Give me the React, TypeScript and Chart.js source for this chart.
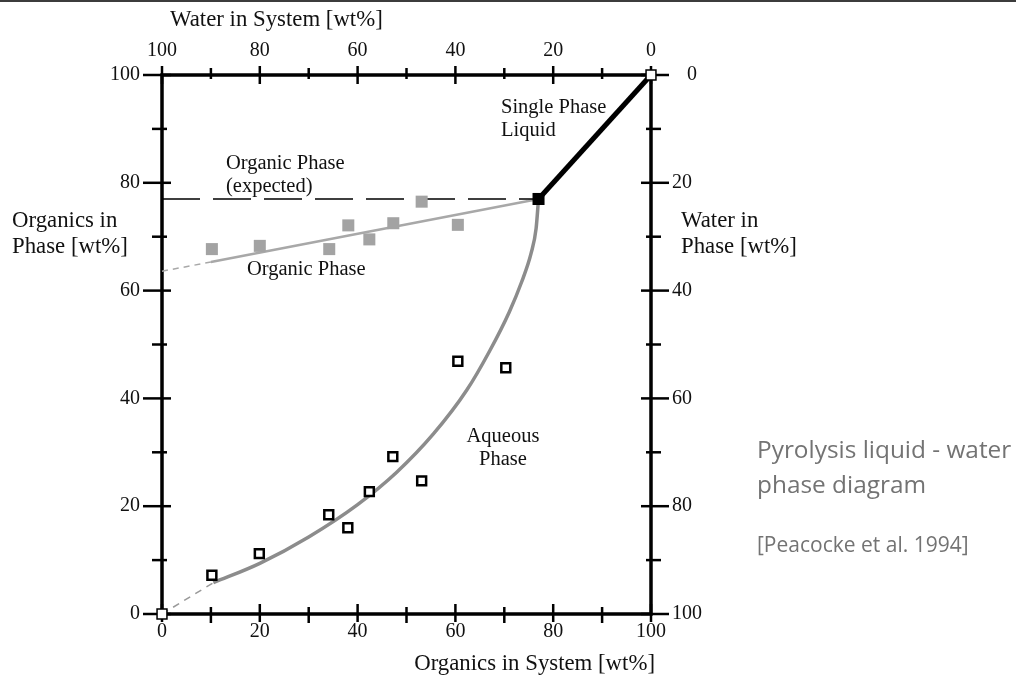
import React, { useEffect, useRef } from 'react';
import { Chart, registerables } from 'chart.js';

Chart.register(...registerables);

// ---- data ----
const tickValues = [0, 20, 40, 60, 80, 100];

const organicX = [10.2, 20.0, 34.2, 38.1, 42.4, 47.3, 53.1, 60.5];
const organicY = [67.7, 68.3, 67.7, 72.1, 69.5, 72.5, 76.5, 72.2];

const aqueousX = [10.2, 19.9, 34.1, 38.0, 42.4, 47.2, 53.1, 60.5, 70.3];
const aqueousY = [7.2, 11.2, 18.4, 16.0, 22.7, 29.2, 24.7, 46.9, 45.7];

const plaitX = [77];
const plaitY = [77];

const cornerX = [0, 100];
const cornerY = [0, 100];

const singlePhaseX = [77, 100];
const singlePhaseY = [77, 100];

const expectedX = [0, 77];
const expectedY = [77, 77];

const organicFitX = [10, 77];
const organicFitY = [65.3, 77];
const organicExtX = [0, 10];
const organicExtY = [63.6, 65.3];

const aqueousFitX = [10.5, 20, 30, 40, 48, 55.5, 62.3, 67, 71, 73.5, 75.5, 76.5, 77];
const aqueousFitY = [5.8, 9.4, 14.3, 20.3, 26.3, 33.4, 41.5, 48.8, 56, 61.5, 67, 71.5, 77];
const aqueousExtX = [0, 10.5];
const aqueousExtY = [0, 5.8];

const pts = (xs: number[], ys: number[]) => xs.map((x, i) => ({ x, y: ys[i] }));

const SERIF = "'Liberation Serif', 'Times New Roman', serif";
const SANS = "'Open Sans', 'Noto Sans', sans-serif";

const decor = {
  id: 'decor',
  beforeDatasetsDraw(chart: any) {
    const ctx = chart.ctx as CanvasRenderingContext2D;
    const { left, right, top, bottom } = chart.chartArea;
    const xs = chart.scales.x;
    const xt = chart.scales.xTop;
    const yl = chart.scales.y;
    const yr = chart.scales.yRight;
    ctx.save();
    // slide top border
    ctx.fillStyle = '#3c3c3c';
    ctx.fillRect(0, 0, chart.width, 2);

    // frame
    ctx.strokeStyle = '#000';
    ctx.lineWidth = 3.5;
    ctx.beginPath();
    ctx.rect(left, top, right - left, bottom - top);
    ctx.stroke();

    // ticks
    ctx.lineWidth = 2.5;
    const line = (x1: number, y1: number, x2: number, y2: number) => {
      ctx.beginPath();
      ctx.moveTo(x1, y1);
      ctx.lineTo(x2, y2);
      ctx.stroke();
    };
    for (let v = 0; v <= 100; v += 10) {
      const major = v % 20 === 0;
      const py = yl.getPixelForValue(v);
      line(left - (major ? 19 : 10), py, left + (major ? 9 : 5), py);
      const py2 = yr.getPixelForValue(v);
      line(right - (major ? 10 : 5), py2, right + (major ? 18 : 10), py2);
      const px = xt.getPixelForValue(v);
      line(px, top - (major ? 9 : 7), px, top + (major ? 9 : 4));
      const px2 = xs.getPixelForValue(v);
      line(px2, bottom - (major ? 10 : 7), px2, bottom + (major ? 8 : 9));
    }

    // titles
    ctx.fillStyle = '#111';
    ctx.textBaseline = 'middle';
    ctx.textAlign = 'left';
    ctx.font = `22.8px ${SERIF}`;
    ctx.fillText('Water in System [wt%]', 170, 20);
    ctx.fillText('Organics in', 12, 221);
    ctx.fillText('Phase [wt%]', 12, 247);
    ctx.fillText('Water in', 681, 221);
    ctx.fillText('Phase [wt%]', 681, 247);
    ctx.textAlign = 'right';
    ctx.fillText('Organics in System [wt%]', 655, 664);

    // annotations
    ctx.font = `20.5px ${SERIF}`;
    ctx.textAlign = 'left';
    ctx.fillText('Single Phase', 501, 108);
    ctx.fillText('Liquid', 501, 131);
    ctx.fillText('Organic Phase', 226, 164);
    ctx.fillText('(expected)', 226, 187);
    ctx.fillText('Organic Phase', 247, 270);
    ctx.textAlign = 'center';
    ctx.fillText('Aqueous', 503, 437);
    ctx.fillText('Phase', 503, 460);

    // side caption
    ctx.textAlign = 'left';
    ctx.fillStyle = '#737373';
    ctx.font = `24.4px ${SANS}`;
    ctx.fillText('Pyrolysis liquid - water', 757, 451);
    ctx.fillText('phase diagram', 757, 486);
    ctx.font = `21px ${SANS}`;
    ctx.fillText('[Peacocke et al. 1994]', 757, 546);
    ctx.restore();
  },
};

export default function App() {
  const ref = useRef<HTMLCanvasElement | null>(null);

  useEffect(() => {
    if (!ref.current) return;
    const tickFont = { family: SERIF, size: 20 };
    const commonScale = {
      type: 'linear',
      min: 0,
      max: 100,
      grid: { display: false, drawTicks: false },
      border: { display: false },
      afterBuildTicks: (s: any) => {
        s.ticks = tickValues.map((v) => ({ value: v }));
      },
    };
    const chart = new Chart(ref.current, {
      type: 'scatter',
      data: {
        datasets: [
          {
            data: pts(cornerX, cornerY),
            pointStyle: 'rect',
            pointRadius: 7,
            pointBackgroundColor: '#fff',
            pointBorderColor: '#000',
            pointBorderWidth: 1.5,
            showLine: false,
          },
          {
            data: pts(plaitX, plaitY),
            pointStyle: 'rect',
            pointRadius: 8.5,
            pointBackgroundColor: '#000',
            pointBorderWidth: 0,
            showLine: false,
          },
          {
            data: pts(aqueousX, aqueousY),
            pointStyle: 'rect',
            pointRadius: 6.3,
            pointBackgroundColor: '#fff',
            pointBorderColor: '#000',
            pointBorderWidth: 2.5,
            showLine: false,
          },
          {
            data: pts(organicX, organicY),
            pointStyle: 'rect',
            pointRadius: 8.5,
            pointBackgroundColor: '#a3a3a3',
            pointBorderWidth: 0,
            showLine: false,
          },
          {
            data: pts(singlePhaseX, singlePhaseY),
            showLine: true,
            borderColor: '#000',
            borderWidth: 5,
            pointRadius: 0,
          },
          {
            data: pts(expectedX, expectedY),
            showLine: true,
            borderColor: '#000',
            borderWidth: 1.5,
            borderDash: [38, 13],
            pointRadius: 0,
          },
          {
            data: pts(organicFitX, organicFitY),
            showLine: true,
            borderColor: '#a8a8a8',
            borderWidth: 2.5,
            pointRadius: 0,
          },
          {
            data: pts(organicExtX, organicExtY),
            showLine: true,
            borderColor: '#a8a8a8',
            borderWidth: 1.5,
            borderDash: [6, 5],
            pointRadius: 0,
          },
          {
            data: pts(aqueousFitX, aqueousFitY),
            showLine: true,
            borderColor: '#8c8c8c',
            borderWidth: 3.5,
            cubicInterpolationMode: 'monotone',
            pointRadius: 0,
          },
          {
            data: pts(aqueousExtX, aqueousExtY),
            showLine: true,
            borderColor: '#999',
            borderWidth: 1.5,
            borderDash: [7, 6],
            pointRadius: 0,
          },
        ] as any,
      },
      options: {
        animation: false,
        responsive: false,
        events: [],
        clip: false as any,
        layout: { padding: 0 },
        plugins: { legend: { display: false }, tooltip: { enabled: false } },
        scales: {
          x: {
            ...commonScale,
            position: 'bottom',
            ticks: { font: tickFont, color: '#111', padding: 6, autoSkip: false, maxRotation: 0 },
            afterFit: (s: any) => { s.height = 63; },
          },
          xTop: {
            ...commonScale,
            position: 'top',
            reverse: true,
            ticks: { font: tickFont, color: '#111', padding: 12, autoSkip: false, maxRotation: 0 },
            afterFit: (s: any) => { s.height = 75; },
          },
          y: {
            ...commonScale,
            position: 'left',
            ticks: { font: tickFont, color: '#111', padding: 22, autoSkip: false },
            afterFit: (s: any) => { s.width = 162; },
          },
          yRight: {
            ...commonScale,
            position: 'right',
            reverse: true,
            ticks: {
              font: tickFont,
              color: '#111',
              padding: 21,
              autoSkip: false,
              callback: (v: any) => (v === 0 ? '   0' : String(v)),
            },
            afterFit: (s: any) => { s.width = 365; },
          },
        } as any,
      },
      plugins: [decor],
    });
    return () => chart.destroy();
  }, []);

  return (
    <div style={{ position: 'absolute', left: 0, top: 0, width: 1016, height: 677, background: '#fff' }}>
      <canvas ref={ref} width={1016} height={677} style={{ display: 'block' }} />
    </div>
  );
}
